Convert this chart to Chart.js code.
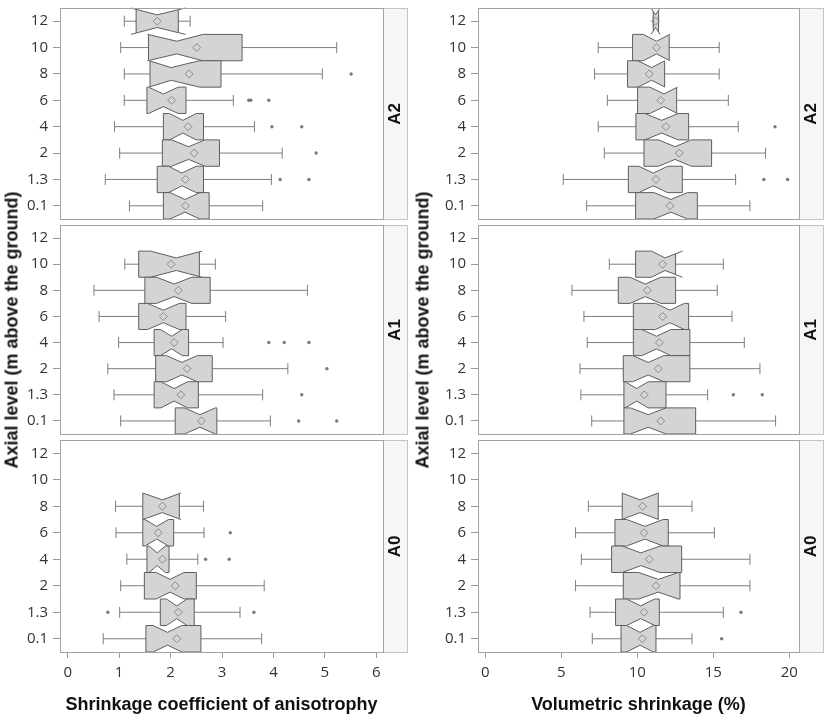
<!DOCTYPE html>
<html>
<head>
<meta charset="utf-8">
<script src="https://cdn.jsdelivr.net/npm/chart.js@4.4.0/dist/chart.umd.min.js"></script>
<style>
body { margin: 0; background: #fff; width: 827px; height: 720px; position: relative; overflow: hidden; }
canvas { position: absolute; }
.ytitle { position: absolute; font: bold 18px "Liberation Sans", Arial, sans-serif; color: #111; white-space: nowrap; transform: translate(-50%, -50%) rotate(-90deg); }
</style>
</head>
<body>
<canvas id="aA2" width="410" height="224" style="left:0;top:0"></canvas>
<canvas id="aA1" width="410" height="219" style="left:0;top:220px"></canvas>
<canvas id="aA0" width="410" height="285" style="left:0;top:435px"></canvas>
<canvas id="vA2" width="409" height="224" style="left:418px;top:0"></canvas>
<canvas id="vA1" width="409" height="219" style="left:418px;top:220px"></canvas>
<canvas id="vA0" width="409" height="285" style="left:418px;top:435px"></canvas>
<div class="ytitle" style="left:12px;top:330px">Axial level (m above the ground)</div>
<div class="ytitle" style="left:423px;top:330px">Axial level (m above the ground)</div>
<script>
const levels = ['12', '10', '8', '6', '4', '2', '1.3', '0.1'];
const anisoTicks = [0, 1, 2, 3, 4, 5, 6];
const volTicks = [0, 5, 10, 15, 20];

// row: [whiskerLo, q1, notchLo, median, notchHi, q3, whiskerHi, mean]
const anisoA2 = [
  [1.10, 1.33, 1.23, 1.74, 2.29, 2.15, 2.38, 1.74],
  [1.03, 1.57, 1.55, 2.12, 2.63, 3.39, 5.23, 2.51],
  [1.10, 1.60, 1.58, 2.01, 2.56, 2.98, 4.95, 2.36],
  [1.10, 1.54, 1.57, 1.86, 2.15, 2.30, 3.22, 2.02],
  [0.91, 1.86, 1.98, 2.24, 2.50, 2.64, 3.63, 2.34],
  [1.01, 1.84, 2.02, 2.35, 2.67, 2.95, 4.17, 2.46],
  [0.73, 1.74, 1.96, 2.22, 2.50, 2.64, 3.96, 2.29],
  [1.20, 1.86, 1.99, 2.28, 2.57, 2.75, 3.79, 2.29]
];
const anisoA2Out = [['8', 5.51], ['6', 3.52], ['6', 3.56], ['6', 3.91], ['4', 3.97], ['4', 4.55], ['2', 4.83], ['1.3', 4.13], ['1.3', 4.69]];

const anisoA1 = [
  null,
  [1.11, 1.38, 1.61, 2.11, 2.61, 2.56, 2.87, 2.01],
  [0.51, 1.50, 1.73, 2.07, 2.41, 2.77, 4.66, 2.15],
  [0.61, 1.38, 1.55, 1.86, 2.17, 2.30, 3.07, 1.86],
  [0.99, 1.68, 1.80, 2.02, 2.23, 2.35, 3.02, 2.07],
  [0.78, 1.71, 1.92, 2.22, 2.52, 2.81, 4.28, 2.32],
  [0.90, 1.68, 1.81, 2.07, 2.33, 2.54, 3.79, 2.20],
  [1.03, 2.09, 2.27, 2.57, 2.87, 2.90, 3.94, 2.60]
];
const anisoA1Out = [['4', 3.91], ['4', 4.21], ['4', 4.69], ['2', 5.04], ['1.3', 4.55], ['0.1', 4.49], ['0.1', 5.23]];

const anisoA0 = [
  null,
  null,
  [0.93, 1.46, 1.46, 1.84, 2.20, 2.17, 2.64, 1.84],
  [0.94, 1.46, 1.50, 1.73, 1.96, 2.06, 2.65, 1.76],
  [1.15, 1.54, 1.58, 1.74, 1.90, 1.97, 2.53, 1.84],
  [1.03, 1.49, 1.72, 1.99, 2.26, 2.50, 3.82, 2.09],
  [1.01, 1.80, 1.92, 2.12, 2.32, 2.46, 3.35, 2.15],
  [0.69, 1.52, 1.66, 1.94, 2.22, 2.59, 3.77, 2.12]
];
const anisoA0Out = [['6', 3.16], ['4', 2.68], ['4', 3.14], ['1.3', 0.78], ['1.3', 3.62]];

const volA2 = [
  [11.05, 11.05, 10.90, 11.20, 11.50, 11.40, 11.40, 11.20],
  [7.43, 9.69, 10.39, 11.27, 12.15, 12.10, 15.39, 11.27],
  [7.19, 9.36, 10.05, 10.94, 11.83, 11.80, 15.39, 10.79],
  [8.03, 10.02, 10.83, 11.75, 12.65, 12.59, 15.99, 11.54],
  [7.43, 9.91, 10.50, 11.60, 12.70, 13.38, 16.64, 11.89],
  [7.83, 10.44, 11.40, 12.48, 13.56, 14.89, 18.44, 12.76],
  [5.13, 9.41, 10.10, 11.05, 12.00, 12.96, 16.47, 11.23],
  [6.67, 9.89, 11.10, 12.21, 13.30, 13.95, 17.41, 12.15]
];
const volA2Out = [['4', 19.06], ['1.3', 18.33], ['1.3', 19.89]];

const volA1 = [
  null,
  [8.16, 9.89, 10.94, 11.82, 12.98, 12.52, 15.66, 11.67],
  [5.70, 8.75, 9.52, 10.53, 11.54, 12.52, 15.26, 10.66],
  [6.49, 9.74, 11.20, 12.15, 13.10, 13.38, 16.23, 11.67],
  [6.71, 9.74, 10.30, 11.27, 12.20, 13.46, 17.04, 11.45],
  [6.23, 9.08, 9.70, 10.72, 11.75, 13.46, 18.07, 11.38],
  [6.29, 9.12, 9.20, 9.96, 10.72, 11.89, 14.63, 10.46],
  [7.00, 9.12, 9.55, 10.72, 11.90, 13.84, 19.10, 11.54]
];
const volA1Out = [['1.3', 16.32], ['1.3', 18.22]];

const volA0 = [
  null,
  null,
  [6.78, 9.01, 8.98, 10.18, 11.40, 11.38, 13.60, 10.35],
  [5.94, 8.53, 9.30, 10.50, 11.70, 12.04, 15.07, 10.44],
  [6.32, 8.31, 9.00, 10.24, 11.50, 12.92, 17.41, 10.79],
  [5.94, 9.08, 10.10, 11.38, 12.70, 12.81, 17.41, 11.23],
  [6.89, 8.57, 9.30, 10.22, 11.15, 11.45, 15.66, 10.44],
  [7.04, 8.93, 9.30, 10.18, 11.05, 11.23, 13.60, 10.33]
];
const volA0Out = [['1.3', 16.82], ['0.1', 15.55]];

const tickFont = { family: "'Open Sans', sans-serif", size: 15 };
const boldFont = "bold 17px 'Liberation Sans', Arial, sans-serif";

// notched box plot, frame and strip label
const notchedPlugin = {
  id: 'notched',
  beforeDatasetsDraw(chart, args, opts) {
    const { ctx, chartArea: a, scales: { x, y } } = chart;
    const band = a.height / levels.length;
    const d = band * 0.26;
    const cap = 5.5;
    ctx.save();
    ctx.lineWidth = 1;
    opts.rows.forEach((r, i) => {
      if (!r) return;
      const [wlo, q1, nlo, med, nhi, q3, whi] = r.map(v => x.getPixelForValue(v));
      const yc = y.getPixelForValue(i);
      const y0 = yc - band / 2, y1 = yc + band / 2;
      const yTop = px => {
        if (px <= nlo || px >= nhi) return y0;
        if (px < med) return y0 + d * (px - nlo) / (med - nlo);
        return y0 + d * (nhi - px) / (nhi - med);
      };
      // whiskers
      ctx.strokeStyle = '#7d7d7d';
      ctx.beginPath();
      ctx.moveTo(wlo, yc); ctx.lineTo(q1, yc);
      ctx.moveTo(q3, yc); ctx.lineTo(whi, yc);
      ctx.moveTo(wlo, yc - cap); ctx.lineTo(wlo, yc + cap);
      ctx.moveTo(whi, yc - cap); ctx.lineTo(whi, yc + cap);
      ctx.stroke();
      // box outline
      const top = [];
      if (nlo > q1) top.push([q1, y0], [nlo, y0]); else top.push([q1, yTop(q1)]);
      top.push([med, y0 + d]);
      if (nhi < q3) top.push([nhi, y0], [q3, y0]); else top.push([q3, yTop(q3)]);
      const bot = top.slice().reverse().map(p => [p[0], y0 + y1 - p[1]]);
      const pts = top.concat(bot);
      ctx.beginPath();
      ctx.moveTo(pts[0][0], pts[0][1]);
      pts.slice(1).forEach(p => ctx.lineTo(p[0], p[1]));
      ctx.closePath();
      ctx.fillStyle = '#d4d4d4';
      ctx.fill();
      ctx.strokeStyle = '#5e5e5e';
      ctx.stroke();
      // notch lines reaching past the box
      ctx.beginPath();
      if (nlo < q1) {
        ctx.moveTo(nlo, y0); ctx.lineTo(q1, yTop(q1));
        ctx.moveTo(nlo, y1); ctx.lineTo(q1, y0 + y1 - yTop(q1));
      }
      if (nhi > q3) {
        ctx.moveTo(nhi, y0); ctx.lineTo(q3, yTop(q3));
        ctx.moveTo(nhi, y1); ctx.lineTo(q3, y0 + y1 - yTop(q3));
      }
      ctx.stroke();
    });
    ctx.restore();
  },
  afterDraw(chart, args, opts) {
    const { ctx, chartArea: a } = chart;
    const l = Math.round(a.left) + 0.5, t = Math.round(a.top) + 0.5;
    const r = Math.round(a.right) + 0.5, b = Math.round(a.bottom) + 0.5;
    ctx.save();
    ctx.fillStyle = '#f6f6f6';
    ctx.fillRect(r, t, 24, b - t);
    ctx.strokeStyle = '#c4c4c4';
    ctx.strokeRect(r, t, 24, b - t);
    ctx.strokeStyle = '#a3a3a3';
    ctx.strokeRect(l, t, r - l, b - t);
    ctx.translate(r + 12, (t + b) / 2);
    ctx.rotate(-Math.PI / 2);
    ctx.font = boldFont;
    ctx.fillStyle = '#111';
    ctx.textAlign = 'center';
    ctx.textBaseline = 'middle';
    ctx.fillText(opts.strip, 0, 0);
    ctx.restore();
  }
};
Chart.register(notchedPlugin);

function noPad(s) {
  s.paddingTop = 0;
  s.paddingBottom = 0;
  s.paddingLeft = 0;
  s.paddingRight = 0;
}

function makePanel(id, rows, outs, strip, xMin, xMax, xTicks, xTitle, pad, bottom) {
  const means = [];
  rows.forEach((r, i) => { if (r) means.push({ x: r[7], y: levels[i] }); });
  return new Chart(document.getElementById(id), {
    type: 'scatter',
    data: {
      datasets: [
        { data: means, pointStyle: 'rectRot', pointRadius: 4, pointBorderColor: '#8c8c8c', pointBackgroundColor: 'rgba(0,0,0,0)', pointBorderWidth: 1 },
        { data: outs.map(o => ({ x: o[1], y: o[0] })), pointStyle: 'circle', pointRadius: 1.7, pointBackgroundColor: '#7a7a7a', pointBorderWidth: 0 }
      ]
    },
    options: {
      responsive: false,
      animation: false,
      devicePixelRatio: 1,
      layout: { padding: { top: pad[0], bottom: pad[1], left: 0, right: pad[2] } },
      plugins: { legend: { display: false }, tooltip: { enabled: false }, notched: { rows: rows, strip: strip } },
      scales: {
        x: {
          type: 'linear',
          min: xMin,
          max: xMax,
          display: bottom,
          afterBuildTicks: s => { s.ticks = xTicks.map(v => ({ value: v })); },
          afterFit: s => { noPad(s); if (bottom) s.height = 68; },
          grid: { drawOnChartArea: false, tickLength: 6, color: '#9a9a9a' },
          border: { display: false },
          ticks: { color: '#333', font: tickFont, padding: 6, maxRotation: 0 },
          title: { display: true, text: xTitle, color: '#111', font: { family: "'Liberation Sans', Arial, sans-serif", size: 18, weight: 'bold' }, padding: { top: 0, bottom: 4 } }
        },
        y: {
          type: 'category',
          labels: levels,
          offset: true,
          afterFit: s => { noPad(s); s.width = 60; },
          grid: { drawOnChartArea: false, tickLength: 7, color: '#9a9a9a', offset: false },
          border: { display: false },
          ticks: { color: '#333', font: tickFont, padding: 5, autoSkip: false }
        }
      }
    }
  });
}

const anisoTitle = 'Shrinkage coefficient of anisotrophy';
const volTitle = 'Volumetric shrinkage (%)';
makePanel('aA2', anisoA2, anisoA2Out, 'A2', -0.15, 6.13, anisoTicks, anisoTitle, [8, 2, 27], false);
makePanel('aA1', anisoA1, anisoA1Out, 'A1', -0.15, 6.13, anisoTicks, anisoTitle, [2, 2, 27], false);
makePanel('aA0', anisoA0, anisoA0Out, 'A0', -0.15, 6.13, anisoTicks, anisoTitle, [2, 0, 27], true);
makePanel('vA2', volA2, volA2Out, 'A2', -0.48, 20.64, volTicks, volTitle, [8, 2, 28], false);
makePanel('vA1', volA1, volA1Out, 'A1', -0.48, 20.64, volTicks, volTitle, [2, 2, 28], false);
makePanel('vA0', volA0, volA0Out, 'A0', -0.48, 20.64, volTicks, volTitle, [2, 0, 28], true);
</script>
</body>
</html>
